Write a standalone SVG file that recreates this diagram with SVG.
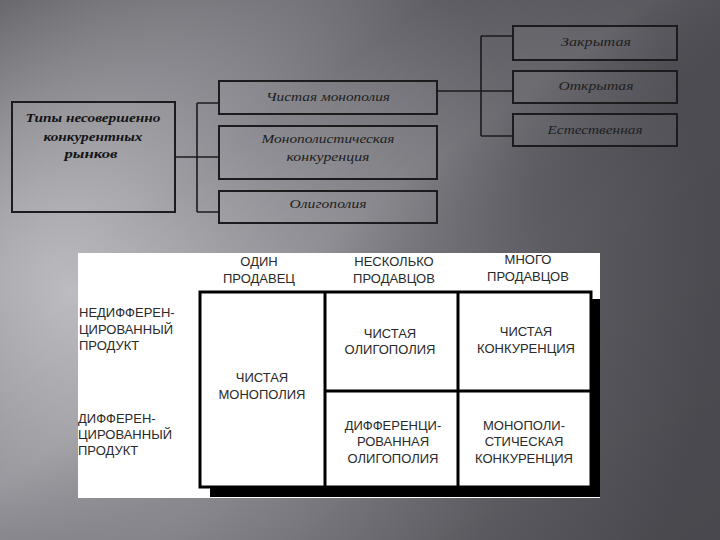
<svg xmlns="http://www.w3.org/2000/svg" width="720" height="540" viewBox="0 0 720 540">
<defs>
<radialGradient id="bg" cx="70" cy="290" r="640" gradientUnits="userSpaceOnUse">
<stop offset="0" stop-color="#bcbcc0"/>
<stop offset="0.35" stop-color="#8c8c92"/>
<stop offset="0.75" stop-color="#5c5c62"/>
<stop offset="1" stop-color="#4c4c52"/>
</radialGradient>
<linearGradient id="streak" x1="0" y1="0" x2="1" y2="1">
<stop offset="0" stop-color="#000" stop-opacity="0.18"/>
<stop offset="0.3" stop-color="#fff" stop-opacity="0"/>
<stop offset="0.45" stop-color="#fff" stop-opacity="0.08"/>
<stop offset="0.6" stop-color="#000" stop-opacity="0"/>
<stop offset="1" stop-color="#000" stop-opacity="0.05"/>
</linearGradient>
<style>
.box{fill:#ffffff;fill-opacity:0.04;stroke:#1c1c1e;stroke-width:2}
.it{font-family:"Liberation Serif","DejaVu Serif",serif;font-style:italic;font-size:13px;fill:#1e1e20;text-anchor:middle}
.itb{font-family:"Liberation Serif","DejaVu Serif",serif;font-style:italic;font-weight:bold;font-size:13px;fill:#141416;text-anchor:middle}
.con{stroke:#1c1c1e;stroke-width:1.6;fill:none}
.t{font-family:"Liberation Sans","Arial",sans-serif;font-size:13px;fill:#2a2a2a;text-anchor:middle}
.tl{font-family:"Liberation Sans","Arial",sans-serif;font-size:13px;fill:#2a2a2a;text-anchor:start}
.grid{stroke:#000;stroke-width:3;fill:none}
.cellbg{fill:#ffffff}
</style>
</defs>
<rect width="720" height="540" fill="url(#bg)"/>
<rect width="720" height="540" fill="url(#streak)"/>

<g id="connectors">
<path class="con" d="M175,157 H219 M197,103 V212 M197,103 H219 M197,212 H219"/>
<path class="con" d="M437,91 H513 M481,36 V136 M481,36 H513 M481,136 H513"/>
</g>

<g id="node-types">
<rect class="box" x="12" y="102" width="163" height="110"/>
<text class="itb" x="93" y="122" textLength="135" lengthAdjust="spacingAndGlyphs">Типы несовершенно</text>
<text class="itb" x="93" y="141" textLength="99" lengthAdjust="spacingAndGlyphs">конкурентных</text>
<text class="itb" x="91" y="158" textLength="53" lengthAdjust="spacingAndGlyphs">рынков</text>
</g>
<g id="node-pure-monopoly">
<rect class="box" x="219" y="81" width="218" height="33"/>
<text class="it" x="328" y="101" textLength="124" lengthAdjust="spacingAndGlyphs">Чистая монополия</text>
</g>
<g id="node-monopolistic">
<rect class="box" x="219" y="126" width="218" height="53"/>
<text class="it" x="328" y="143" textLength="133" lengthAdjust="spacingAndGlyphs">Монополистическая</text>
<text class="it" x="328" y="161" textLength="83" lengthAdjust="spacingAndGlyphs">конкуренция</text>
</g>
<g id="node-oligopoly">
<rect class="box" x="219" y="191" width="218" height="32"/>
<text class="it" x="328" y="208" textLength="77" lengthAdjust="spacingAndGlyphs">Олигополия</text>
</g>
<g id="node-closed">
<rect class="box" x="513" y="26" width="164" height="34"/>
<text class="it" x="596" y="46" textLength="70" lengthAdjust="spacingAndGlyphs">Закрытая</text>
</g>
<g id="node-open">
<rect class="box" x="513" y="71" width="164" height="32"/>
<text class="it" x="596" y="90" textLength="75" lengthAdjust="spacingAndGlyphs">Открытая</text>
</g>
<g id="node-natural">
<rect class="box" x="513" y="114" width="164" height="32"/>
<text class="it" x="595" y="134" textLength="95" lengthAdjust="spacingAndGlyphs">Естественная</text>
</g>

<g id="table">
<rect x="78" y="253" width="522" height="245" fill="#ffffff"/>
<rect x="210" y="299" width="390" height="198" fill="#000"/>
<rect class="cellbg" x="200" y="292" width="391" height="195"/>
<rect class="grid" x="200" y="292" width="391" height="195"/>
<path class="grid" d="M325,292 V487 M458,292 V487 M325,391 H591"/>
<g id="headers">
<text class="t" x="259" y="266">ОДИН</text>
<text class="t" x="259" y="283">ПРОДАВЕЦ</text>
<text class="t" x="394" y="266">НЕСКОЛЬКО</text>
<text class="t" x="394" y="283">ПРОДАВЦОВ</text>
<text class="t" x="528" y="264">МНОГО</text>
<text class="t" x="528" y="281">ПРОДАВЦОВ</text>
</g>
<g id="row-labels">
<text class="tl" x="79" y="317">НЕДИФФЕРЕН-</text>
<text class="tl" x="79" y="334">ЦИРОВАННЫЙ</text>
<text class="tl" x="79" y="350">ПРОДУКТ</text>
<text class="tl" x="78" y="423">ДИФФЕРЕН-</text>
<text class="tl" x="78" y="439">ЦИРОВАННЫЙ</text>
<text class="tl" x="78" y="455">ПРОДУКТ</text>
</g>
<g id="cells">
<text class="t" x="262" y="382">ЧИСТАЯ</text>
<text class="t" x="262" y="399">МОНОПОЛИЯ</text>
<text class="t" x="390" y="338">ЧИСТАЯ</text>
<text class="t" x="390" y="354">ОЛИГОПОЛИЯ</text>
<text class="t" x="526" y="336">ЧИСТАЯ</text>
<text class="t" x="526" y="353">КОНКУРЕНЦИЯ</text>
<text class="t" x="393" y="430">ДИФФЕРЕНЦИ-</text>
<text class="t" x="393" y="446">РОВАННАЯ</text>
<text class="t" x="393" y="463">ОЛИГОПОЛИЯ</text>
<text class="t" x="524" y="430">МОНОПОЛИ-</text>
<text class="t" x="524" y="446">СТИЧЕСКАЯ</text>
<text class="t" x="524" y="463">КОНКУРЕНЦИЯ</text>
</g>
</g>
</svg>
